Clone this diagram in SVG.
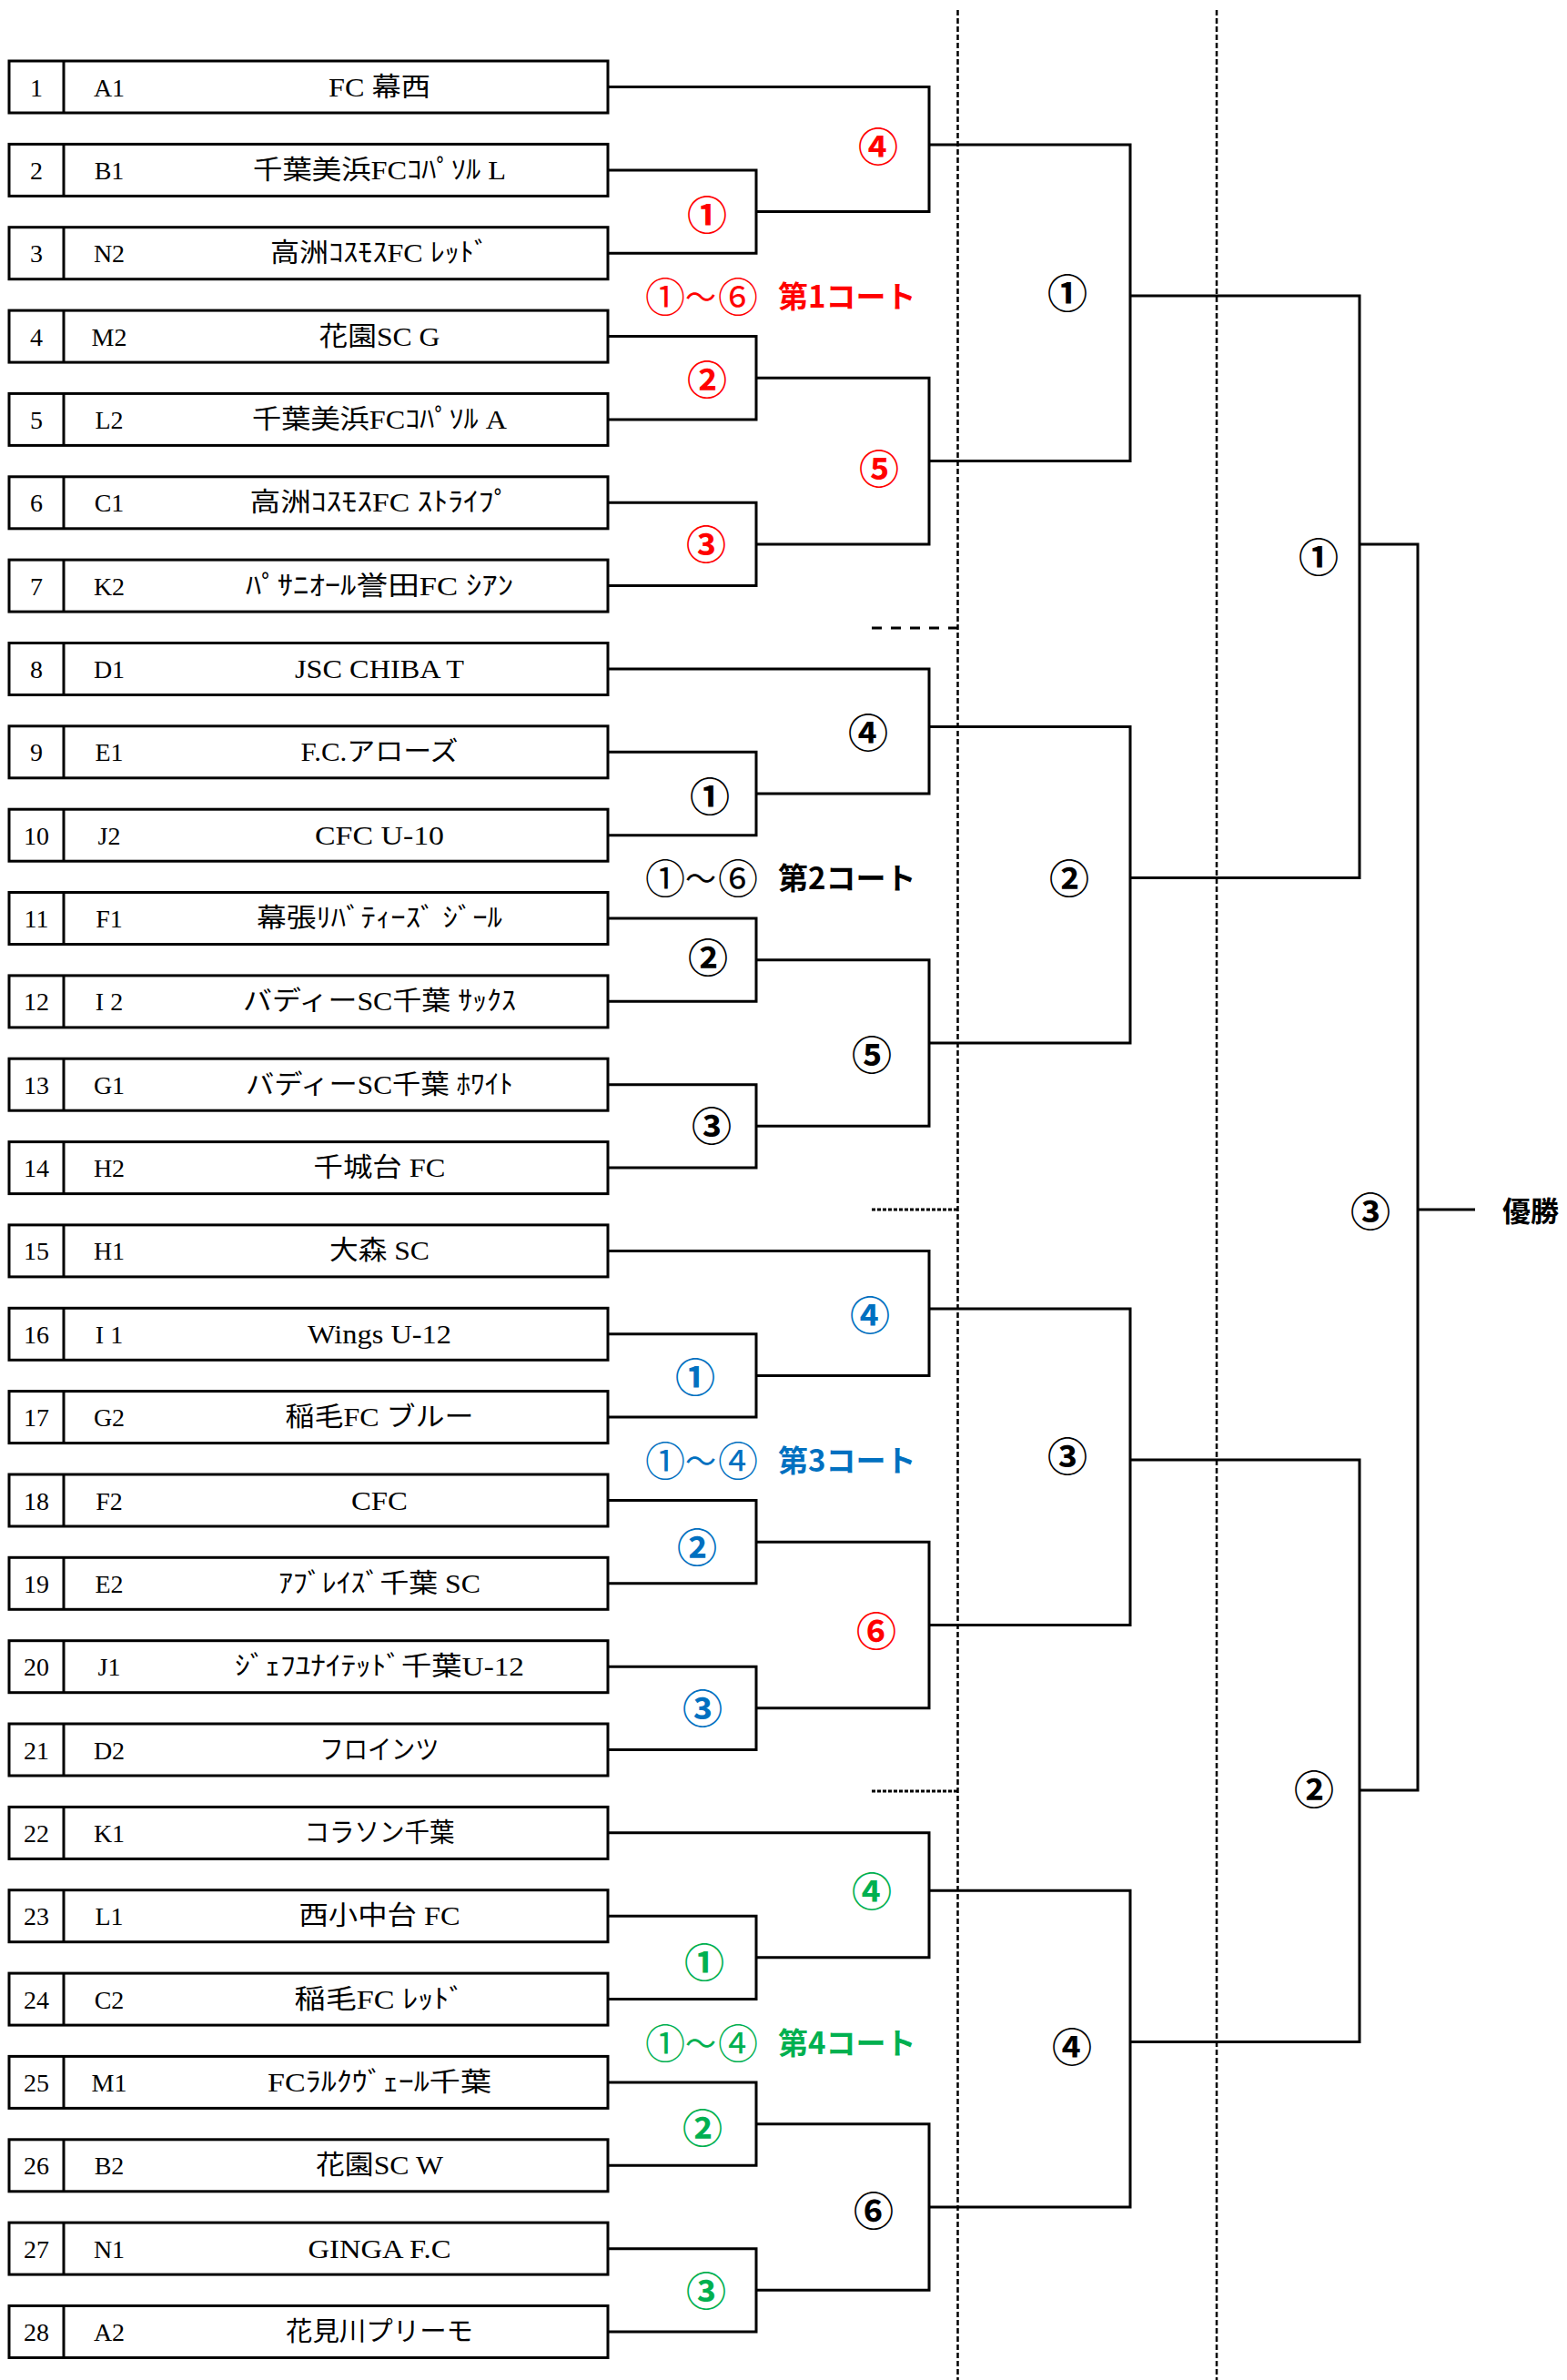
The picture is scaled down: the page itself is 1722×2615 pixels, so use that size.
<svg xmlns="http://www.w3.org/2000/svg" width="1722" height="2615" viewBox="0 0 1722 2615">
<style>
.box{fill:#fff;stroke:#000;stroke-width:3}
.div{stroke:#000;stroke-width:3}
.t{font-family:"Liberation Serif","Noto Sans CJK JP",serif;font-size:28px;fill:#000;text-anchor:middle}
.nm{font-family:"Liberation Serif","Noto Sans CJK JP",serif;font-size:29px;fill:#000;text-anchor:middle}
.ln{fill:none;stroke:#000;stroke-width:3}
.vd{fill:none;stroke:#000;stroke-width:2.5;stroke-dasharray:6 3}
.hd1{fill:none;stroke:#000;stroke-width:3;stroke-dasharray:11 10}
.hd2{fill:none;stroke:#000;stroke-width:3;stroke-dasharray:4 2}
.lb{font-family:"Noto Sans CJK JP",sans-serif;font-size:44px;font-weight:bold;text-anchor:middle;dominant-baseline:central}
.ct{font-family:"Noto Sans CJK JP",sans-serif;font-size:34px;text-anchor:middle;dominant-baseline:central}
.cc{font-size:44px}
.cw{font-size:33px;font-weight:bold;text-anchor:start}
.win{font-family:"Noto Sans CJK JP",sans-serif;font-size:31px;font-weight:bold;text-anchor:start;dominant-baseline:central;fill:#000}
.red{fill:#FF0000}.blue{fill:#0070C0}.green{fill:#00B050}.blk{fill:#000}
</style>
<rect width="1722" height="2615" fill="#fff"/>

<g id="separators">
<path class="vd" d="M1052.5 11V2615"/>
<path class="vd" d="M1337 11V2615"/>
<path class="hd1" d="M958 690H1052"/>
<path class="hd2" d="M958 1329H1052"/>
<path class="hd2" d="M958 1968H1052"/>
</g>

<g id="connectors">
<g id="court1-lines">
<path class="ln" d="M668 95.5H1021V232.5H831"/>
<path class="ln" d="M668 186.9H831V278.2H668"/>
<path class="ln" d="M668 369.6H831V460.9H668"/>
<path class="ln" d="M668 552.3H831V643.6H668"/>
<path class="ln" d="M831 415.3H1021V597.9H831"/>
<path class="ln" d="M1021 159H1242V506.6H1021"/>
</g>
<g id="court2-lines" transform="translate(0,639.45)">
<path class="ln" d="M668 95.5H1021V232.5H831"/>
<path class="ln" d="M668 186.9H831V278.2H668"/>
<path class="ln" d="M668 369.6H831V460.9H668"/>
<path class="ln" d="M668 552.3H831V643.6H668"/>
<path class="ln" d="M831 415.3H1021V597.9H831"/>
<path class="ln" d="M1021 159H1242V506.6H1021"/>
</g>
<g id="court3-lines" transform="translate(0,1278.9)">
<path class="ln" d="M668 95.5H1021V232.5H831"/>
<path class="ln" d="M668 186.9H831V278.2H668"/>
<path class="ln" d="M668 369.6H831V460.9H668"/>
<path class="ln" d="M668 552.3H831V643.6H668"/>
<path class="ln" d="M831 415.3H1021V597.9H831"/>
<path class="ln" d="M1021 159H1242V506.6H1021"/>
</g>
<g id="court4-lines" transform="translate(0,1918.35)">
<path class="ln" d="M668 95.5H1021V232.5H831"/>
<path class="ln" d="M668 186.9H831V278.2H668"/>
<path class="ln" d="M668 369.6H831V460.9H668"/>
<path class="ln" d="M668 552.3H831V643.6H668"/>
<path class="ln" d="M831 415.3H1021V597.9H831"/>
<path class="ln" d="M1021 159H1242V506.6H1021"/>
</g>
<path class="ln" d="M1242 325H1494V964.5H1242"/>
<path class="ln" d="M1242 1603.9H1494V2243.4H1242"/>
<path class="ln" d="M1494 598H1558V1967H1494"/>
<path class="ln" d="M1558 1329H1621"/>
</g>

<g id="teams">
<g id="team1"><rect class="box" x="10" y="67" width="658" height="57"/><line class="div" x1="70" y1="67" x2="70" y2="124"/><text class="t" x="40" y="105.5">1</text><text class="t" x="120" y="105.5">A1</text><text class="nm" x="417" y="105.5" textLength="112" lengthAdjust="spacingAndGlyphs">FC 幕西</text></g>
<g id="team2"><rect class="box" x="10" y="158.4" width="658" height="57"/><line class="div" x1="70" y1="158.4" x2="70" y2="215.4"/><text class="t" x="40" y="196.9">2</text><text class="t" x="120" y="196.9">B1</text><text class="nm" x="417" y="196.9" textLength="278" lengthAdjust="spacingAndGlyphs">千葉美浜FCｺﾊﾟｿﾙ L</text></g>
<g id="team3"><rect class="box" x="10" y="249.7" width="658" height="57"/><line class="div" x1="70" y1="249.7" x2="70" y2="306.7"/><text class="t" x="40" y="288.2">3</text><text class="t" x="120" y="288.2">N2</text><text class="nm" x="417" y="288.2" textLength="240" lengthAdjust="spacingAndGlyphs">高洲ｺｽﾓｽFC ﾚｯﾄﾞ</text></g>
<g id="team4"><rect class="box" x="10" y="341.1" width="658" height="57"/><line class="div" x1="70" y1="341.1" x2="70" y2="398.1"/><text class="t" x="40" y="379.6">4</text><text class="t" x="120" y="379.6">M2</text><text class="nm" x="417" y="379.6" textLength="133" lengthAdjust="spacingAndGlyphs">花園SC G</text></g>
<g id="team5"><rect class="box" x="10" y="432.4" width="658" height="57"/><line class="div" x1="70" y1="432.4" x2="70" y2="489.4"/><text class="t" x="40" y="470.9">5</text><text class="t" x="120" y="470.9">L2</text><text class="nm" x="417" y="470.9" textLength="280" lengthAdjust="spacingAndGlyphs">千葉美浜FCｺﾊﾟｿﾙ A</text></g>
<g id="team6"><rect class="box" x="10" y="523.8" width="658" height="57"/><line class="div" x1="70" y1="523.8" x2="70" y2="580.8"/><text class="t" x="40" y="562.3">6</text><text class="t" x="120" y="562.3">C1</text><text class="nm" x="417" y="562.3" textLength="285" lengthAdjust="spacingAndGlyphs">高洲ｺｽﾓｽFC ｽﾄﾗｲﾌﾟ</text></g>
<g id="team7"><rect class="box" x="10" y="615.1" width="658" height="57"/><line class="div" x1="70" y1="615.1" x2="70" y2="672.1"/><text class="t" x="40" y="653.6">7</text><text class="t" x="120" y="653.6">K2</text><text class="nm" x="417" y="653.6" textLength="294" lengthAdjust="spacingAndGlyphs">ﾊﾟｻﾆｵｰﾙ誉田FC ｼｱﾝ</text></g>
<g id="team8"><rect class="box" x="10" y="706.5" width="658" height="57"/><line class="div" x1="70" y1="706.5" x2="70" y2="763.5"/><text class="t" x="40" y="745">8</text><text class="t" x="120" y="745">D1</text><text class="nm" x="417" y="745" textLength="186" lengthAdjust="spacingAndGlyphs">JSC CHIBA T</text></g>
<g id="team9"><rect class="box" x="10" y="797.8" width="658" height="57"/><line class="div" x1="70" y1="797.8" x2="70" y2="854.8"/><text class="t" x="40" y="836.3">9</text><text class="t" x="120" y="836.3">E1</text><text class="nm" x="417" y="836.3" textLength="173" lengthAdjust="spacingAndGlyphs">F.C.アローズ</text></g>
<g id="team10"><rect class="box" x="10" y="889.2" width="658" height="57"/><line class="div" x1="70" y1="889.2" x2="70" y2="946.2"/><text class="t" x="40" y="927.7">10</text><text class="t" x="120" y="927.7">J2</text><text class="nm" x="417" y="927.7" textLength="142" lengthAdjust="spacingAndGlyphs">CFC U-10</text></g>
<g id="team11"><rect class="box" x="10" y="980.5" width="658" height="57"/><line class="div" x1="70" y1="980.5" x2="70" y2="1037.5"/><text class="t" x="40" y="1019">11</text><text class="t" x="120" y="1019">F1</text><text class="nm" x="417" y="1019" textLength="270" lengthAdjust="spacingAndGlyphs">幕張ﾘﾊﾞﾃｨｰｽﾞ ｼﾞｰﾙ</text></g>
<g id="team12"><rect class="box" x="10" y="1071.9" width="658" height="57"/><line class="div" x1="70" y1="1071.9" x2="70" y2="1128.9"/><text class="t" x="40" y="1110.4">12</text><text class="t" x="120" y="1110.4">I 2</text><text class="nm" x="417" y="1110.4" textLength="300" lengthAdjust="spacingAndGlyphs">バディーSC千葉 ｻｯｸｽ</text></g>
<g id="team13"><rect class="box" x="10" y="1163.2" width="658" height="57"/><line class="div" x1="70" y1="1163.2" x2="70" y2="1220.2"/><text class="t" x="40" y="1201.7">13</text><text class="t" x="120" y="1201.7">G1</text><text class="nm" x="417" y="1201.7" textLength="294" lengthAdjust="spacingAndGlyphs">バディーSC千葉 ﾎﾜｲﾄ</text></g>
<g id="team14"><rect class="box" x="10" y="1254.6" width="658" height="57"/><line class="div" x1="70" y1="1254.6" x2="70" y2="1311.6"/><text class="t" x="40" y="1293.1">14</text><text class="t" x="120" y="1293.1">H2</text><text class="nm" x="417" y="1293.1" textLength="145" lengthAdjust="spacingAndGlyphs">千城台 FC</text></g>
<g id="team15"><rect class="box" x="10" y="1345.9" width="658" height="57"/><line class="div" x1="70" y1="1345.9" x2="70" y2="1402.9"/><text class="t" x="40" y="1384.4">15</text><text class="t" x="120" y="1384.4">H1</text><text class="nm" x="417" y="1384.4" textLength="110" lengthAdjust="spacingAndGlyphs">大森 SC</text></g>
<g id="team16"><rect class="box" x="10" y="1437.3" width="658" height="57"/><line class="div" x1="70" y1="1437.3" x2="70" y2="1494.3"/><text class="t" x="40" y="1475.8">16</text><text class="t" x="120" y="1475.8">I 1</text><text class="nm" x="417" y="1475.8" textLength="158" lengthAdjust="spacingAndGlyphs">Wings U-12</text></g>
<g id="team17"><rect class="box" x="10" y="1528.6" width="658" height="57"/><line class="div" x1="70" y1="1528.6" x2="70" y2="1585.6"/><text class="t" x="40" y="1567.1">17</text><text class="t" x="120" y="1567.1">G2</text><text class="nm" x="417" y="1567.1" textLength="207" lengthAdjust="spacingAndGlyphs">稲毛FC ブルー</text></g>
<g id="team18"><rect class="box" x="10" y="1620" width="658" height="57"/><line class="div" x1="70" y1="1620" x2="70" y2="1677"/><text class="t" x="40" y="1658.5">18</text><text class="t" x="120" y="1658.5">F2</text><text class="nm" x="417" y="1658.5" textLength="62" lengthAdjust="spacingAndGlyphs">CFC</text></g>
<g id="team19"><rect class="box" x="10" y="1711.3" width="658" height="57"/><line class="div" x1="70" y1="1711.3" x2="70" y2="1768.3"/><text class="t" x="40" y="1749.8">19</text><text class="t" x="120" y="1749.8">E2</text><text class="nm" x="417" y="1749.8" textLength="222" lengthAdjust="spacingAndGlyphs">ｱﾌﾞﾚｲｽﾞ千葉 SC</text></g>
<g id="team20"><rect class="box" x="10" y="1802.7" width="658" height="57"/><line class="div" x1="70" y1="1802.7" x2="70" y2="1859.7"/><text class="t" x="40" y="1841.2">20</text><text class="t" x="120" y="1841.2">J1</text><text class="nm" x="417" y="1841.2" textLength="318" lengthAdjust="spacingAndGlyphs">ｼﾞｪﾌﾕﾅｲﾃｯﾄﾞ千葉U-12</text></g>
<g id="team21"><rect class="box" x="10" y="1894" width="658" height="57"/><line class="div" x1="70" y1="1894" x2="70" y2="1951"/><text class="t" x="40" y="1932.5">21</text><text class="t" x="120" y="1932.5">D2</text><text class="nm" x="417" y="1932.5" textLength="131" lengthAdjust="spacingAndGlyphs">フロインツ</text></g>
<g id="team22"><rect class="box" x="10" y="1985.4" width="658" height="57"/><line class="div" x1="70" y1="1985.4" x2="70" y2="2042.4"/><text class="t" x="40" y="2023.9">22</text><text class="t" x="120" y="2023.9">K1</text><text class="nm" x="417" y="2023.9" textLength="165" lengthAdjust="spacingAndGlyphs">コラソン千葉</text></g>
<g id="team23"><rect class="box" x="10" y="2076.7" width="658" height="57"/><line class="div" x1="70" y1="2076.7" x2="70" y2="2133.7"/><text class="t" x="40" y="2115.2">23</text><text class="t" x="120" y="2115.2">L1</text><text class="nm" x="417" y="2115.2" textLength="177" lengthAdjust="spacingAndGlyphs">西小中台 FC</text></g>
<g id="team24"><rect class="box" x="10" y="2168.1" width="658" height="57"/><line class="div" x1="70" y1="2168.1" x2="70" y2="2225.1"/><text class="t" x="40" y="2206.6">24</text><text class="t" x="120" y="2206.6">C2</text><text class="nm" x="417" y="2206.6" textLength="187" lengthAdjust="spacingAndGlyphs">稲毛FC ﾚｯﾄﾞ</text></g>
<g id="team25"><rect class="box" x="10" y="2259.4" width="658" height="57"/><line class="div" x1="70" y1="2259.4" x2="70" y2="2316.4"/><text class="t" x="40" y="2297.9">25</text><text class="t" x="120" y="2297.9">M1</text><text class="nm" x="417" y="2297.9" textLength="246" lengthAdjust="spacingAndGlyphs">FCﾗﾙｸｳﾞｪｰﾙ千葉</text></g>
<g id="team26"><rect class="box" x="10" y="2350.8" width="658" height="57"/><line class="div" x1="70" y1="2350.8" x2="70" y2="2407.8"/><text class="t" x="40" y="2389.3">26</text><text class="t" x="120" y="2389.3">B2</text><text class="nm" x="417" y="2389.3" textLength="140" lengthAdjust="spacingAndGlyphs">花園SC W</text></g>
<g id="team27"><rect class="box" x="10" y="2442.1" width="658" height="57"/><line class="div" x1="70" y1="2442.1" x2="70" y2="2499.1"/><text class="t" x="40" y="2480.6">27</text><text class="t" x="120" y="2480.6">N1</text><text class="nm" x="417" y="2480.6" textLength="157" lengthAdjust="spacingAndGlyphs">GINGA F.C</text></g>
<g id="team28"><rect class="box" x="10" y="2533.5" width="658" height="57"/><line class="div" x1="70" y1="2533.5" x2="70" y2="2590.5"/><text class="t" x="40" y="2572">28</text><text class="t" x="120" y="2572">A2</text><text class="nm" x="417" y="2572" textLength="206" lengthAdjust="spacingAndGlyphs">花見川プリーモ</text></g>
</g>

<g id="court1-labels">
<text class="lb red" x="965" y="159">④</text>
<text class="lb red" x="777" y="234">①</text>
<text class="lb red" x="777" y="415">②</text>
<text class="lb red" x="966" y="513">⑤</text>
<text class="lb red" x="776" y="596">③</text>
<text class="ct red" y="324"><tspan class="cc" x="731">①</tspan><tspan x="770">～</tspan><tspan class="cc" x="811">⑥</tspan><tspan class="cw" x="855">第1コート</tspan></text>
</g>
<g id="court2-labels">
<text class="lb blk" x="954" y="803">④</text>
<text class="lb blk" x="780" y="873">①</text>
<text class="lb blk" x="778" y="1050">②</text>
<text class="lb blk" x="958" y="1157">⑤</text>
<text class="lb blk" x="782" y="1235">③</text>
<text class="ct blk" y="963"><tspan class="cc" x="731">①</tspan><tspan x="770">～</tspan><tspan class="cc" x="811">⑥</tspan><tspan class="cw" x="855">第2コート</tspan></text>
</g>
<g id="court3-labels">
<text class="lb blue" x="956" y="1443">④</text>
<text class="lb blue" x="764" y="1511">①</text>
<text class="lb blue" x="766" y="1698">②</text>
<text class="lb red" x="963" y="1790">⑥</text>
<text class="lb blue" x="772" y="1875">③</text>
<text class="ct blue" y="1603"><tspan class="cc" x="731">①</tspan><tspan x="770">～</tspan><tspan class="cc" x="811">④</tspan><tspan class="cw" x="855">第3コート</tspan></text>
</g>
<g id="court4-labels">
<text class="lb green" x="958" y="2076">④</text>
<text class="lb green" x="774" y="2154">①</text>
<text class="lb green" x="772" y="2336">②</text>
<text class="lb blk" x="960" y="2427">⑥</text>
<text class="lb green" x="776" y="2515">③</text>
<text class="ct green" y="2243"><tspan class="cc" x="731">①</tspan><tspan x="770">～</tspan><tspan class="cc" x="811">④</tspan><tspan class="cw" x="855">第4コート</tspan></text>
</g>
<g id="final-labels">
<text class="lb blk" x="1173" y="320">①</text>
<text class="lb blk" x="1175" y="963">②</text>
<text class="lb blk" x="1173" y="1598">③</text>
<text class="lb blk" x="1178" y="2247">④</text>
<text class="lb blk" x="1449" y="610">①</text>
<text class="lb blk" x="1444" y="1964">②</text>
<text class="lb blk" x="1506" y="1329">③</text>
<text class="win" x="1651" y="1328">優勝</text>
</g>
</svg>
